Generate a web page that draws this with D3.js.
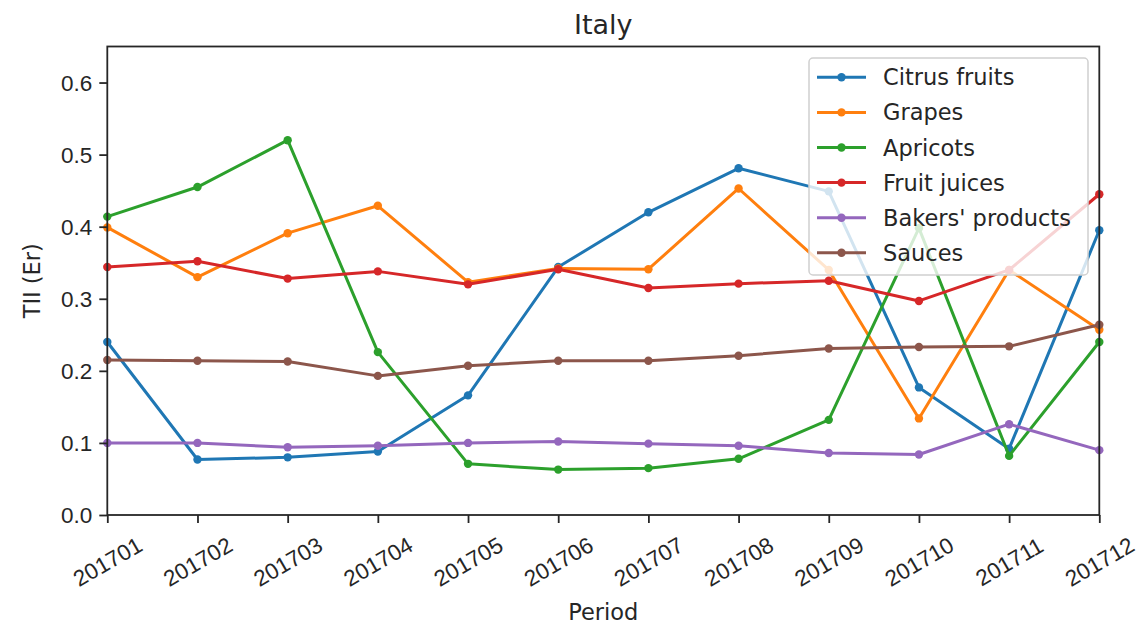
<!DOCTYPE html>
<html>
<head>
<meta charset="utf-8">
<script src="https://cdn.jsdelivr.net/npm/d3@7"></script>
<style>
  html, body { margin: 0; padding: 0; background: #fff; }
  svg { display: block; font-family: "DejaVu Sans", sans-serif; }
</style>
</head>
<body>
<svg id="chart" width="1141" height="631"></svg>
<script>
// Trade intensity index by product group, Italy, monthly 2017
const periods = ["201701","201702","201703","201704","201705","201706",
                 "201707","201708","201709","201710","201711","201712"];
const seriesNames = ["Citrus fruits","Grapes","Apricots","Fruit juices","Bakers' products","Sauces"];
const citrusFruits   = [0.240,0.077,0.080,0.088,0.166,0.344,0.420,0.481,0.449,0.177,0.092,0.395];
const grapes         = [0.399,0.330,0.391,0.429,0.323,0.342,0.341,0.453,0.340,0.134,0.340,0.257];
const apricots       = [0.414,0.455,0.520,0.226,0.071,0.063,0.065,0.078,0.132,0.398,0.082,0.240];
const fruitJuices    = [0.344,0.352,0.328,0.338,0.320,0.341,0.315,0.321,0.325,0.297,0.340,0.445];
const bakersProducts = [0.100,0.100,0.094,0.096,0.100,0.102,0.099,0.096,0.086,0.084,0.126,0.090];
const sauces         = [0.215,0.214,0.213,0.193,0.207,0.214,0.214,0.221,0.231,0.233,0.234,0.264];
const yTicks = [0.0,0.1,0.2,0.3,0.4,0.5,0.6];
const colors = ["#1f77b4","#ff7f0e","#2ca02c","#d62728","#9467bd","#8c564b"];

const series = [citrusFruits, grapes, apricots, fruitJuices, bakersProducts, sauces]
  .map((values, i) => ({ name: seriesNames[i], color: colors[i], values }));

const svg = d3.select("#chart");
const plotLeft = 107.3, plotRight = 1099.3, plotTop = 46.5, plotBottom = 515;

const x = d3.scalePoint().domain(periods).range([plotLeft, plotRight]);
const y = d3.scaleLinear().domain([0, 0.65]).range([plotBottom, plotTop]);

const fontSize = 22.5;
const ink = "#262626";

// plotted lines with dot markers
const line = d3.line().x((d, i) => x(periods[i])).y(d => y(d));
const plot = svg.append("g");
series.forEach(s => {
  const g = plot.append("g");
  g.append("path")
    .attr("d", line(s.values))
    .attr("fill", "none")
    .attr("stroke", s.color)
    .attr("stroke-width", 3)
    .attr("stroke-linejoin", "round");
  g.selectAll("circle").data(s.values).join("circle")
    .attr("cx", (d, i) => x(periods[i]))
    .attr("cy", d => y(d))
    .attr("r", 4.2)
    .attr("fill", s.color);
});

// axes
const xAxis = svg.append("g")
  .attr("transform", `translate(0,${plotBottom})`)
  .call(d3.axisBottom(x).tickSize(8).tickPadding(0));
xAxis.select(".domain").remove();
xAxis.selectAll("line").attr("stroke", ink).attr("stroke-width", 1.8);
xAxis.selectAll("text")
  .attr("font-size", fontSize)
  .attr("fill", ink)
  .attr("text-anchor", "middle")
  .attr("dominant-baseline", "central")
  .attr("y", 0)
  .attr("dy", null)
  .attr("transform", "translate(0,47) rotate(-30)");

const yAxis = svg.append("g")
  .attr("transform", `translate(${plotLeft},0)`)
  .call(d3.axisLeft(y).tickValues(yTicks).tickFormat(d3.format(".1f")).tickSize(8).tickPadding(7));
yAxis.select(".domain").remove();
yAxis.selectAll("line").attr("stroke", ink).attr("stroke-width", 1.8);
yAxis.selectAll("text")
  .attr("font-size", fontSize)
  .attr("fill", ink)
  .attr("dominant-baseline", "central")
  .attr("dy", null);

// frame
svg.append("rect")
  .attr("x", plotLeft).attr("y", plotTop)
  .attr("width", plotRight - plotLeft).attr("height", plotBottom - plotTop)
  .attr("fill", "none")
  .attr("stroke", ink)
  .attr("stroke-width", 1.8);

// titles
svg.append("text")
  .attr("x", (plotLeft + plotRight) / 2).attr("y", 24)
  .attr("text-anchor", "middle").attr("dominant-baseline", "central")
  .attr("font-size", 27).attr("fill", ink)
  .text("Italy");
svg.append("text")
  .attr("x", (plotLeft + plotRight) / 2).attr("y", 612)
  .attr("text-anchor", "middle").attr("dominant-baseline", "central")
  .attr("font-size", fontSize).attr("fill", ink)
  .text("Period");
svg.append("text")
  .attr("transform", `translate(32,${(plotTop + plotBottom) / 2}) rotate(-90)`)
  .attr("text-anchor", "middle").attr("dominant-baseline", "central")
  .attr("font-size", fontSize).attr("fill", ink)
  .text("TII (Er)");

// legend
const legend = svg.append("g");
legend.append("rect")
  .attr("x", 809).attr("y", 58)
  .attr("width", 279).attr("height", 217)
  .attr("rx", 4)
  .attr("fill", "#fff").attr("fill-opacity", 0.8)
  .attr("stroke", "#d0d0d0").attr("stroke-width", 1.5);
series.forEach((s, i) => {
  const cy = 77.3 + i * 35.1;
  legend.append("line")
    .attr("x1", 817).attr("x2", 866)
    .attr("y1", cy).attr("y2", cy)
    .attr("stroke", s.color).attr("stroke-width", 3);
  legend.append("circle")
    .attr("cx", 841.5).attr("cy", cy).attr("r", 4.2)
    .attr("fill", s.color);
  legend.append("text")
    .attr("x", 883).attr("y", cy)
    .attr("dominant-baseline", "central")
    .attr("font-size", fontSize).attr("fill", ink)
    .text(s.name);
});
</script>
</body>
</html>
